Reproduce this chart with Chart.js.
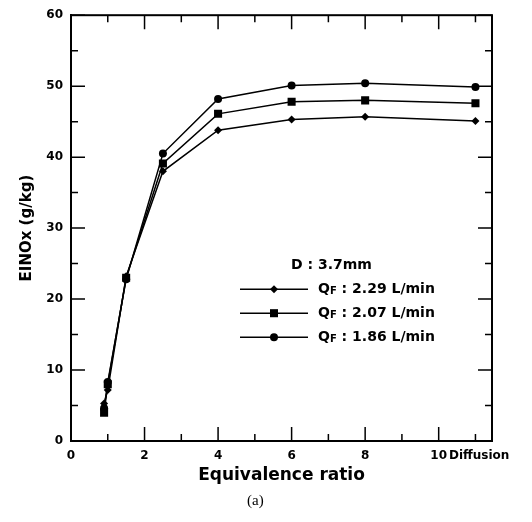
<!DOCTYPE html>
<html>
<head>
<meta charset="utf-8">
<script src="https://cdn.jsdelivr.net/npm/chart.js@4.4.1/dist/chart.umd.min.js"></script>
<style>
  body { margin: 0; background: #fff; }
</style>
</head>
<body>
<canvas id="myChart" width="532" height="522"></canvas>
<script>
// equivalence ratio (the "Diffusion" case is placed at 11)
const phi = [0.9, 1.0, 1.5, 2.5, 4, 6, 8, 11];
const qf229 = [5.3, 7.2, 23.2, 38.0, 43.8, 45.3, 45.7, 45.1];
const qf207 = [4.0, 8.0, 23.0, 39.1, 46.1, 47.8, 48.0, 47.6];
const qf186 = [4.6, 8.3, 22.8, 40.5, 48.2, 50.1, 50.4, 49.9];
const seriesLabels = ["QF : 2.29 L/min", "QF : 2.07 L/min", "QF : 1.86 L/min"];
const legendTitle = "D : 3.7mm";
const xTickValues = [0, 2, 4, 6, 8, 10, 11.1];
const xTickLabels = ["0", "2", "4", "6", "8", "10", "Diffusion"];
const xMarks = [0, 1, 2, 3, 4, 5, 6, 7, 8, 9, 10, 11];
const yMarks = [0, 5, 10, 15, 20, 25, 30, 35, 40, 45, 50, 55, 60];

const FONT = "'DejaVu Sans', sans-serif";
Chart.defaults.font.family = FONT;
Chart.defaults.font.weight = "bold";
Chart.defaults.color = "#000";

function drawMarker(ctx, style, r, x, y) {
  ctx.beginPath();
  if (style === "rectRot") {
    ctx.moveTo(x, y - r);
    ctx.lineTo(x + r, y);
    ctx.lineTo(x, y + r);
    ctx.lineTo(x - r, y);
    ctx.closePath();
  } else if (style === "rect") {
    const s = r * Math.SQRT1_2;
    ctx.rect(x - s, y - s, 2 * s, 2 * s);
  } else {
    ctx.arc(x, y, r, 0, Math.PI * 2);
  }
  ctx.fill();
}

// inward tick marks on all four sides + frame
const frameTicks = {
  id: "frameTicks",
  afterDraw(chart) {
    const { ctx, chartArea: a, scales } = chart;
    ctx.save();
    ctx.strokeStyle = "#000";
    ctx.lineWidth = 1.5;
    ctx.beginPath();
    xMarks.forEach((v) => {
      const px = scales.x.getPixelForValue(v);
      const len = v % 2 === 0 ? 14 : 7;
      ctx.moveTo(px, a.bottom);
      ctx.lineTo(px, a.bottom - len);
      ctx.moveTo(px, a.top);
      ctx.lineTo(px, a.top + len);
    });
    yMarks.forEach((v) => {
      const py = scales.y.getPixelForValue(v);
      const len = v % 10 === 0 ? 14 : 7;
      ctx.moveTo(a.left, py);
      ctx.lineTo(a.left + len, py);
      ctx.moveTo(a.right, py);
      ctx.lineTo(a.right - len, py);
    });
    ctx.stroke();
    ctx.lineWidth = 2;
    ctx.strokeRect(a.left, a.top, a.right - a.left, a.bottom - a.top);
    ctx.restore();
  },
};

// legend box inside the plot
const innerLegend = {
  id: "innerLegend",
  afterDraw(chart) {
    const { ctx, chartArea: a } = chart;
    ctx.save();
    ctx.fillStyle = "#000";
    ctx.strokeStyle = "#000";
    ctx.textBaseline = "middle";
    ctx.textAlign = "left";
    ctx.font = "bold 14px " + FONT;
    ctx.fillText(legendTitle, a.left + 220, a.top + 250);
    chart.data.datasets.forEach((ds, i) => {
      const y = a.top + 274 + i * 24;
      ctx.lineWidth = 1.5;
      ctx.beginPath();
      ctx.moveTo(a.left + 169, y);
      ctx.lineTo(a.left + 237, y);
      ctx.stroke();
      drawMarker(ctx, ds.pointStyle, ds.pointRadius, a.left + 203, y);
      let x = a.left + 247;
      ctx.font = "bold 14px " + FONT;
      ctx.fillText(ds.label[0], x, y);
      x += ctx.measureText(ds.label[0]).width;
      ctx.font = "bold 10px " + FONT;
      ctx.fillText(ds.label[1], x, y + 2);
      x += ctx.measureText(ds.label[1]).width;
      ctx.font = "bold 14px " + FONT;
      ctx.fillText(ds.label.slice(2), x, y);
    });
    ctx.restore();
  },
};

const toPoints = (ys) => phi.map((x, i) => ({ x: x, y: ys[i] }));

const data = {
  datasets: [
    { label: seriesLabels[0], data: toPoints(qf229), pointStyle: "rectRot", pointRadius: 4 },
    { label: seriesLabels[1], data: toPoints(qf207), pointStyle: "rect", pointRadius: 5.7 },
    { label: seriesLabels[2], data: toPoints(qf186), pointStyle: "circle", pointRadius: 4 },
  ].map((d) => ({
    ...d,
    borderColor: "#000",
    backgroundColor: "#000",
    pointBackgroundColor: "#000",
    pointBorderColor: "#000",
    pointBorderWidth: 0,
    borderWidth: 1.5,
    tension: 0,
  })),
};

const config = {
  type: "line",
  data: data,
  options: {
    responsive: false,
    animation: false,
    layout: { padding: { top: 10, right: 40, left: 0, bottom: 0 } },
    plugins: {
      legend: { display: false },
      tooltip: { enabled: false },
      title: {
        display: true,
        position: "bottom",
        text: "     (a)",
        color: "#000",
        font: { family: "'Liberation Serif', serif", size: 15, weight: "normal" },
        padding: { top: 0, bottom: 12 },
      },
    },
    scales: {
      x: {
        type: "linear",
        min: 0,
        max: 11.45,
        grid: { display: false, drawTicks: false },
        border: { display: true, color: "#000", width: 2 },
        afterBuildTicks: (scale) => {
          scale.ticks = xTickValues.map((v) => ({ value: v }));
        },
        afterFit: (scale) => {
          scale.height = 51;
        },
        ticks: {
          autoSkip: false,
          maxRotation: 0,
          padding: 8,
          font: { size: 12, weight: "bold" },
          callback: (value, index) => xTickLabels[index],
        },
        title: {
          display: true,
          text: "Equivalence ratio",
          font: { size: 17, weight: "bold" },
          padding: { top: 0, bottom: 6 },
        },
      },
      y: {
        min: 0,
        max: 60,
        grid: { display: false, drawTicks: false },
        border: { display: true, color: "#000", width: 2 },
        afterFit: (scale) => {
          scale.width = 71;
        },
        ticks: {
          stepSize: 10,
          padding: 8,
          font: { size: 12, weight: "bold" },
        },
        title: {
          display: true,
          text: "EINOx (g/kg)",
          font: { size: 15, weight: "bold" },
          padding: { top: 18, bottom: 0 },
        },
      },
    },
  },
  plugins: [frameTicks, innerLegend],
};

var myChart = new Chart(document.getElementById("myChart"), config);
</script>
</body>
</html>
